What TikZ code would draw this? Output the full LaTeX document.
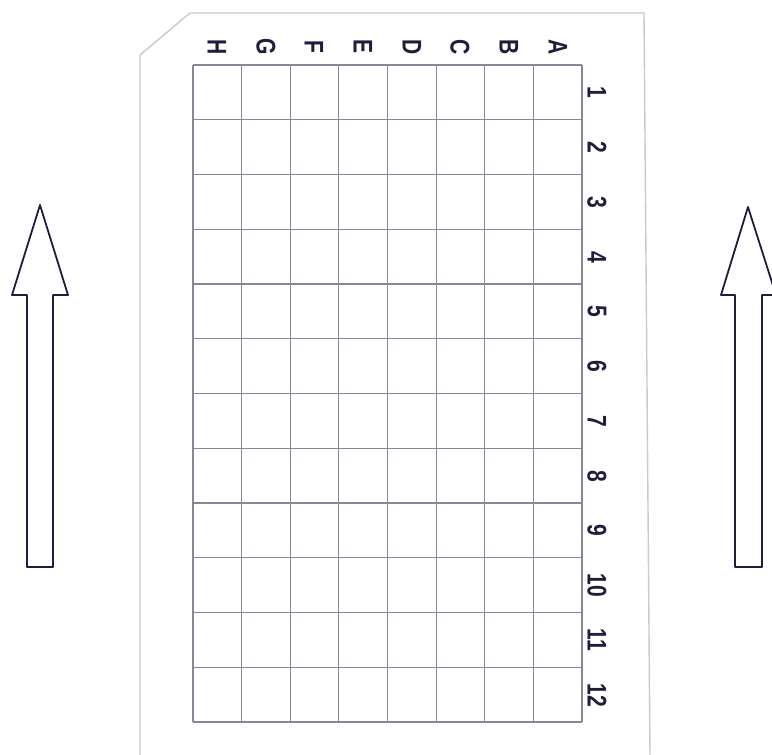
\documentclass[tikz,border=0pt]{standalone}
\usepackage{fontspec}
\setmainfont{Liberation Sans}
\newfontfamily\platefont[FakeStretch=0.78]{Liberation Sans Bold}
\usetikzlibrary{arrows.meta,positioning}
\definecolor{PlateGray}{RGB}{200,200,208}
\definecolor{WellGray}{RGB}{135,135,152}
\definecolor{InkNavy}{RGB}{30,30,60}

\begin{document}
\begin{tikzpicture}[x=1pt,y=-1pt,
  lbl/.style={rotate=-90,inner sep=0pt,text=InkNavy,font=\platefont\fontsize{27}{27}\selectfont},
  wells/.style={draw=WellGray,line width=1.2pt},
  plate/.style={draw=PlateGray,line width=1.4pt},
  bigarrow/.style={draw=InkNavy,line width=1.8pt,line join=round}
]
  \useasboundingbox (0,0) rectangle (772,755);
  % plate outline, cut corner top left
  \draw[plate] (140,755) -- (140,55) -- (190,13) -- (644,13) -- (650,755);
  % wells
  \foreach \i in {0,...,8}
    \draw[wells] ({193+48.625*\i},65) -- ({193+48.625*\i},722);
  \foreach \j in {0,...,12}
    \draw[wells] (193,{65+54.75*\j}) -- (582,{65+54.75*\j});
  % column letters
  \node[lbl] (colH) at (217,47) {H};
  \node[lbl] (colG) at (266,47) {G};
  \node[lbl] (colF) at (314,47) {F};
  \node[lbl] (colE) at (363,47) {E};
  \node[lbl] (colD) at (412,47) {D};
  \node[lbl] (colC) at (460,47) {C};
  \node[lbl] (colB) at (509,47) {B};
  \node[lbl] (colA) at (558,47) {A};
  % row numbers
  \node[lbl] (row1) at (597,92) {1};
  \node[lbl] (row2) at (597,147) {2};
  \node[lbl] (row3) at (597,202) {3};
  \node[lbl] (row4) at (597,257) {4};
  \node[lbl] (row5) at (597,311) {5};
  \node[lbl] (row6) at (597,366) {6};
  \node[lbl] (row7) at (597,421) {7};
  \node[lbl] (row8) at (597,476) {8};
  \node[lbl] (row9) at (597,530) {9};
  \node[lbl] (row10) at (597,585) {10};
  \node[lbl] (row11) at (597,640) {11};
  \node[lbl] (row12) at (597,695) {12};
  % direction arrows
  \draw[bigarrow] (40,205) -- (68,295) -- (53,295) -- (53,567) -- (27,567) -- (27,295) -- (12,295) -- cycle;
  \draw[bigarrow] (748,207) -- (776,295) -- (762,295) -- (762,567) -- (735,567) -- (735,295) -- (721,295) -- cycle;
\end{tikzpicture}
\end{document}
